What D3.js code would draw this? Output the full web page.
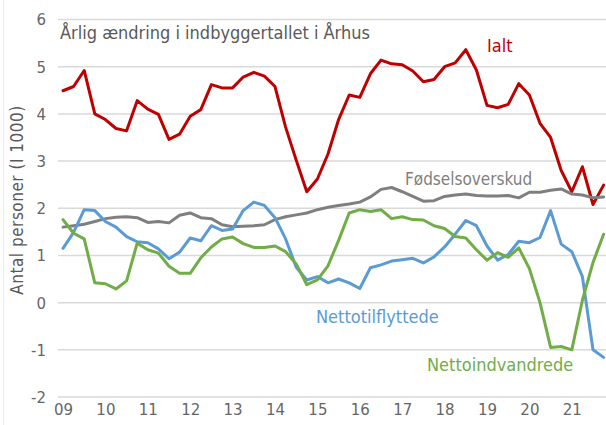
<!DOCTYPE html>
<html>
<head>
<meta charset="utf-8">
<script src="https://cdn.jsdelivr.net/npm/d3@7"></script>
<style>
  html, body { margin: 0; padding: 0; background: #fff; }
  svg { display: block; }
  text { font-family: "Liberation Sans Narrow", "DejaVu Sans Condensed", "Arial Narrow", sans-serif; }
  .tick text { font-family: "DejaVu Sans", "Liberation Sans", sans-serif; }
</style>
</head>
<body>
<svg id="chart" width="606" height="425"></svg>
<script>
// Quarterly periods 2009K1 .. 2021K4
const periods = [
  "2009K1","2009K2","2009K3","2009K4","2010K1","2010K2","2010K3","2010K4",
  "2011K1","2011K2","2011K3","2011K4","2012K1","2012K2","2012K3","2012K4",
  "2013K1","2013K2","2013K3","2013K4","2014K1","2014K2","2014K3","2014K4",
  "2015K1","2015K2","2015K3","2015K4","2016K1","2016K2","2016K3","2016K4",
  "2017K1","2017K2","2017K3","2017K4","2018K1","2018K2","2018K3","2018K4",
  "2019K1","2019K2","2019K3","2019K4","2020K1","2020K2","2020K3","2020K4",
  "2021K1","2021K2","2021K3","2021K4"
];

const ialt = [
  4.49,4.58,4.92,4.00,3.88,3.69,3.64,4.28,4.10,3.99,3.46,3.57,3.95,4.09,4.62,4.55,
  4.55,4.78,4.88,4.80,4.58,3.72,3.02,2.35,2.62,3.15,3.88,4.40,4.35,4.85,5.14,5.06,
  5.04,4.91,4.68,4.73,5.00,5.08,5.36,4.93,4.18,4.13,4.20,4.64,4.40,3.80,3.50,2.80,
  2.35,2.88,2.08,2.49
];
const foedsel = [
  1.60,1.63,1.66,1.72,1.78,1.81,1.82,1.80,1.70,1.72,1.69,1.85,1.90,1.80,1.78,1.65,
  1.61,1.62,1.63,1.65,1.76,1.82,1.86,1.90,1.97,2.02,2.06,2.09,2.13,2.24,2.40,2.44,
  2.35,2.25,2.15,2.16,2.25,2.28,2.30,2.27,2.26,2.26,2.27,2.22,2.34,2.34,2.38,2.41,
  2.30,2.28,2.22,2.24
];
const tilflyttede = [
  1.15,1.49,1.97,1.95,1.72,1.60,1.40,1.29,1.27,1.14,0.93,1.07,1.37,1.31,1.63,1.53,
  1.56,1.95,2.13,2.06,1.80,1.35,0.75,0.48,0.55,0.42,0.50,0.42,0.30,0.74,0.80,0.88,
  0.91,0.94,0.84,0.97,1.18,1.45,1.74,1.63,1.20,0.90,1.02,1.30,1.27,1.38,1.95,1.24,
  1.08,0.55,-1.00,-1.16
];
const indvandrede = [
  1.76,1.47,1.35,0.42,0.40,0.29,0.46,1.26,1.12,1.05,0.77,0.62,0.62,0.95,1.18,1.35,
  1.39,1.25,1.17,1.17,1.20,1.08,0.82,0.38,0.48,0.78,1.32,1.90,1.97,1.93,1.97,1.78,
  1.82,1.76,1.75,1.63,1.57,1.40,1.37,1.12,0.90,1.06,0.96,1.16,0.72,0.00,-0.95,-0.93,
  -1.00,0.05,0.85,1.45
];

const yTicks = [-2,-1,0,1,2,3,4,5,6];
const xTickYears = [2009,2010,2011,2012,2013,2014,2015,2016,2017,2018,2019,2020,2021];

const seriesNames = ["Ialt","Fødselsoverskud","Nettotilflyttede","Nettoindvandrede"];
const seriesValues = [ialt, foedsel, tilflyttede, indvandrede];
const seriesColors = ["#c00000","#7f7f7f","#5b9bd5","#70ad47"];

const title = "Årlig ændring i indbyggertallet i Århus";
const yTitle = "Antal personer (I 1000)";

const svg = d3.select("#chart");

const toTime = p => +p.slice(0,4) + (+p.slice(5) - 1) / 4;

const x = d3.scaleLinear().domain([2009, 2021.75]).range([63, 603.6]);
const y = d3.scaleLinear().domain([-2, 6]).range([397, 19.5]);

// faint frame line at left
svg.append("line").attr("x1", 3.5).attr("x2", 3.5).attr("y1", 0).attr("y2", 425)
  .attr("stroke", "#ececec").attr("stroke-width", 1);

// gridlines
svg.append("g").selectAll("line").data(yTicks).join("line")
  .attr("x1", 58).attr("x2", 606)
  .attr("y1", d => y(d)).attr("y2", d => y(d))
  .attr("stroke", "#d9d9d9").attr("stroke-width", 1.5);

// y axis (labels only)
const yAxis = svg.append("g").attr("transform", "translate(46,0)")
  .call(d3.axisLeft(y).tickValues(yTicks).tickSize(0).tickPadding(0).tickFormat(d => String(d)));
yAxis.select(".domain").remove();
yAxis.selectAll("text").attr("fill", "#666").attr("font-size", 15).attr("dy", "0.36em");

// x axis (labels only)
const xAxis = svg.append("g").attr("transform", "translate(0,404)")
  .call(d3.axisBottom(x).tickValues(xTickYears).tickSize(0).tickPadding(0)
    .tickFormat(d => String(d % 100).padStart(2, "0")));
xAxis.select(".domain").remove();
xAxis.selectAll("text").attr("fill", "#666").attr("font-size", 15).attr("dy", "0.71em");

// lines
const line = d3.line().x((d, i) => x(toTime(periods[i]))).y(d => y(d));
svg.append("g").selectAll("path").data(seriesValues).join("path")
  .attr("d", d => line(d))
  .attr("fill", "none")
  .attr("stroke", (d, i) => seriesColors[i])
  .attr("stroke-width", 3)
  .attr("stroke-linejoin", "round")
  .attr("stroke-linecap", "round");

// title
svg.append("text").attr("x", 60).attr("y", 39).text(title)
  .attr("fill", "#595959").attr("font-size", 18);

// y title
svg.append("text").attr("transform", "translate(23,200) rotate(-90)")
  .attr("text-anchor", "middle").text(yTitle)
  .attr("fill", "#595959").attr("font-size", 17)
  .attr("letter-spacing", 0.5);

// series labels
const labelPos = [[487, 52], [405, 185], [316, 323], [427, 371]];
const labelSize = [18, 17, 18, 18];
svg.append("g").selectAll("text").data(seriesNames).join("text")
  .attr("x", (d, i) => labelPos[i][0]).attr("y", (d, i) => labelPos[i][1])
  .attr("fill", (d, i) => i === 1 ? "#7f7f7f" : seriesColors[i])
  .attr("font-size", (d, i) => labelSize[i])
  .text(d => d);
</script>
</body>
</html>
